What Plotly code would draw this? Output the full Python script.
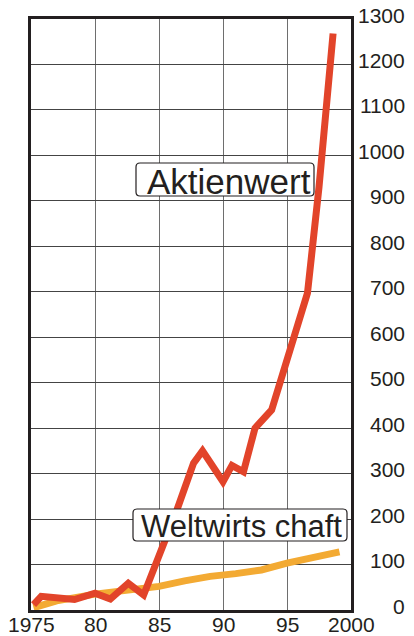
import plotly.graph_objects as go

# ---- data ----
aktien_years = [1975.2, 1975.8, 1978.4, 1980.0, 1981.2, 1982.6, 1983.8, 1984.8, 1986.4,
                1987.7, 1988.4, 1990.0, 1990.7, 1991.6, 1992.5, 1993.8, 1996.6, 1997.5, 1998.6]
aktien_values = [12, 30, 23, 37, 24, 59, 33, 103, 220,
                 323, 350, 282, 318, 304, 400, 440, 697, 930, 1268]

welt_years = [1975.2, 1977, 1980, 1983, 1985, 1987, 1989, 1991, 1993, 1995, 1997, 1999.1]
welt_values = [5, 20, 35, 45, 52, 64, 74, 80, 88, 103, 117, 128]

x_tickvals = [1975, 1980, 1985, 1990, 1995, 2000]
x_ticktext = ["1975", "80", "85", "90", "95", "2000"]
y_tickvals = list(range(0, 1301, 100))
y_ticktext = [str(v) for v in y_tickvals]

series_labels = ["Aktienwert", "Weltwirts chaft"]

RED = "#e2442a"
ORANGE = "#f3aa33"
INK = "#231f20"
FONT = "Liberation Sans, Arial, sans-serif"

W, H = 414, 636
L, R, T, B = 31, 63, 19, 26
PW, PH = W - L - R, H - T - B


def px2paper(px, py):
    return (px - L) / PW, (H - B - py) / PH


def rounded_box(x0p, y0p, x1p, y1p, r=4):
    x0, y1 = px2paper(x0p, y0p)
    x1, y0 = px2paper(x1p, y1p)
    rx, ry = r / PW, r / PH
    return (f"M {x0+rx},{y1} L {x1-rx},{y1} Q {x1},{y1} {x1},{y1-ry} "
            f"L {x1},{y0+ry} Q {x1},{y0} {x1-rx},{y0} L {x0+rx},{y0} "
            f"Q {x0},{y0} {x0},{y0+ry} L {x0},{y1-ry} Q {x0},{y1} {x0+rx},{y1} Z")


fig = go.Figure()
fig.add_trace(go.Scatter(x=welt_years, y=welt_values, mode="lines",
                         line=dict(color=ORANGE, width=7), hoverinfo="skip"))
fig.add_trace(go.Scatter(x=aktien_years, y=aktien_values, mode="lines",
                         line=dict(color=RED, width=7), hoverinfo="skip"))

shapes = [
    dict(type="path", xref="paper", yref="paper", layer="above",
         path=rounded_box(136, 163, 314, 196),
         fillcolor="white", line=dict(color=INK, width=1.2)),
    dict(type="path", xref="paper", yref="paper", layer="above",
         path=rounded_box(133, 509, 347, 541),
         fillcolor="white", line=dict(color=INK, width=1.2)),
]

annotations = []
# label texts
cx, cy = px2paper(229, 181)
annotations.append(dict(xref="paper", yref="paper", x=cx, y=cy, text=series_labels[0],
                        showarrow=False, xanchor="center", yanchor="middle",
                        font=dict(family=FONT, size=35, color=INK)))
cx, cy = px2paper(241, 526)
annotations.append(dict(xref="paper", yref="paper", x=cx, y=cy, text=series_labels[1],
                        showarrow=False, xanchor="center", yanchor="middle",
                        font=dict(family=FONT, size=31, color=INK)))
# right-aligned y tick labels
for v, t in zip(y_tickvals, y_ticktext):
    annotations.append(dict(xref="paper", yref="y", x=1, y=v, text=t, showarrow=False,
                            xanchor="right", yanchor="middle", xshift=56, yshift=4,
                            font=dict(family=FONT, size=21, color=INK)))
# x tick labels placed tight under the frame
for v, t in zip(x_tickvals, x_ticktext):
    annotations.append(dict(xref="x", yref="paper", x=v, y=0, text=t, showarrow=False,
                            xanchor="center", yanchor="middle", yshift=-14,
                            font=dict(family=FONT, size=21, color=INK)))

fig.update_layout(
    width=W, height=H,
    margin=dict(l=L, r=R, t=T, b=B, pad=0, autoexpand=False),
    paper_bgcolor="white", plot_bgcolor="white",
    showlegend=False,
    shapes=shapes, annotations=annotations,
    xaxis=dict(range=[1975, 2000], tickvals=x_tickvals, showticklabels=False,
               showgrid=True, gridcolor="#6e6e6e", gridwidth=1, automargin=False,
               showline=True, linecolor=INK, linewidth=3, mirror=True,
               ticks="", zeroline=False),
    yaxis=dict(range=[0, 1300], tickvals=y_tickvals, showticklabels=False,
               showgrid=True, gridcolor="#444444", gridwidth=1, automargin=False,
               showline=True, linecolor=INK, linewidth=3, mirror=True,
               ticks="", zeroline=False),
)

fig.write_html("out.html", config={"displayModeBar": False},
               post_script="document.body.style.margin='0';document.body.style.overflow='hidden';")
